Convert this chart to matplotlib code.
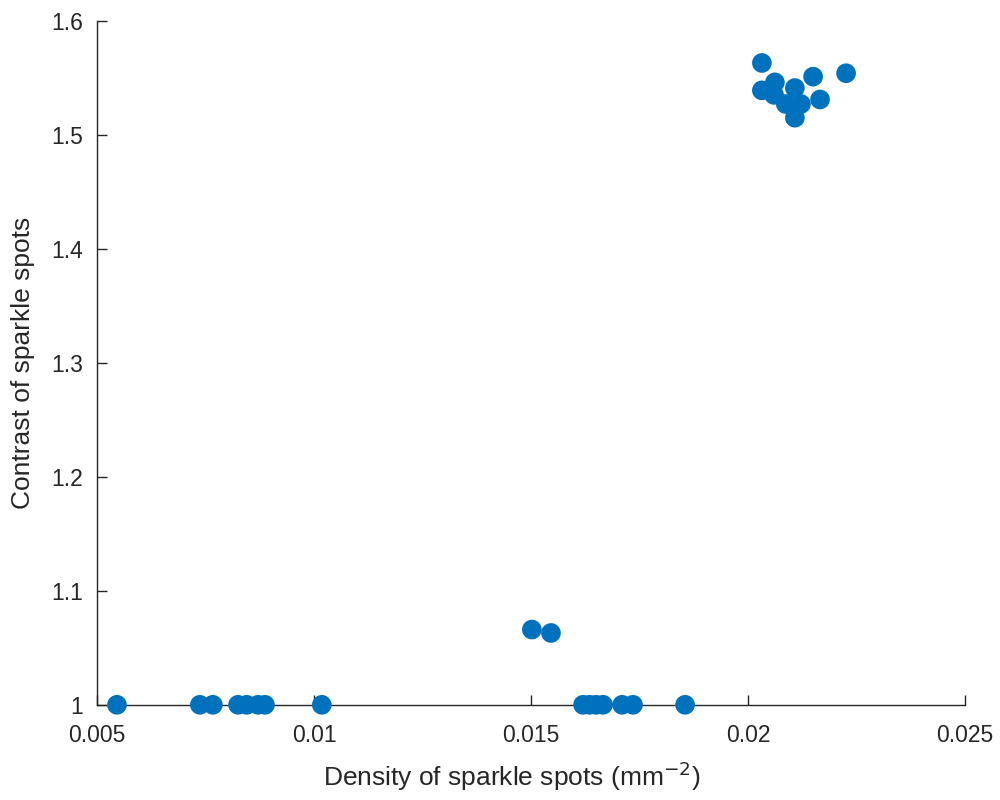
import matplotlib
matplotlib.use("Agg")
import matplotlib.pyplot as plt
from matplotlib.ticker import FuncFormatter

# sparkle spot measurements: density (mm^-2) vs contrast
density = [0.00546, 0.00737, 0.00767, 0.00825, 0.00845, 0.00871, 0.00887, 0.01018,
           0.01620, 0.01635, 0.01650, 0.01666, 0.01710, 0.01735, 0.01855,
           0.01502, 0.01546,
           0.02032, 0.02032, 0.02062, 0.02060, 0.02108, 0.02087, 0.02122,
           0.02108, 0.02150, 0.02166, 0.02226]
contrast = [1.0, 1.0, 1.0, 1.0, 1.0, 1.0, 1.0, 1.0,
            1.0, 1.0, 1.0, 1.0, 1.0, 1.0, 1.0,
            1.066, 1.063,
            1.563, 1.539, 1.546, 1.535, 1.541, 1.527, 1.527,
            1.515, 1.551, 1.531, 1.554]

x_ticks = [0.005, 0.01, 0.015, 0.02, 0.025]
y_ticks = [1.0, 1.1, 1.2, 1.3, 1.4, 1.5, 1.6]

plt.rcParams['font.family'] = ['Liberation Sans', 'DejaVu Sans']

fig = plt.figure(figsize=(10, 8), dpi=100)
ax = fig.add_axes([0.097, 0.119, 0.868, 0.855])

ax.scatter(density, contrast, s=200, color='#0072BD', edgecolors='none',
           zorder=3, clip_on=False)

ax.set_xlim(0.005, 0.025)
ax.set_ylim(1.0, 1.6)
ax.set_xticks(x_ticks)
ax.set_yticks(y_ticks)
ax.xaxis.set_major_formatter(FuncFormatter(lambda v, p: f'{v:g}'))
ax.yaxis.set_major_formatter(FuncFormatter(lambda v, p: f'{v:g}'))

# MATLAB-like box off, inward ticks
for side in ('top', 'right'):
    ax.spines[side].set_visible(False)
for side in ('left', 'bottom'):
    ax.spines[side].set_color('#262626')
    ax.spines[side].set_linewidth(1.0)
ax.tick_params(direction='in', length=7, width=1.0, color='#262626',
               labelsize=16.5, labelcolor='#262626')
ax.tick_params(axis='y', pad=10)
ax.tick_params(axis='x', pad=14)

ax.set_xlabel('Density of sparkle spots (mm$^{-2}$)', fontsize=19,
              color='#262626', va='center')
ax.xaxis.set_label_coords(0.478, -0.104)
ax.set_ylabel('Contrast of sparkle spots', fontsize=19, color='#262626',
              va='center')
ax.yaxis.set_label_coords(-0.085, 0.5)

fig.savefig('out.png', dpi=100)
